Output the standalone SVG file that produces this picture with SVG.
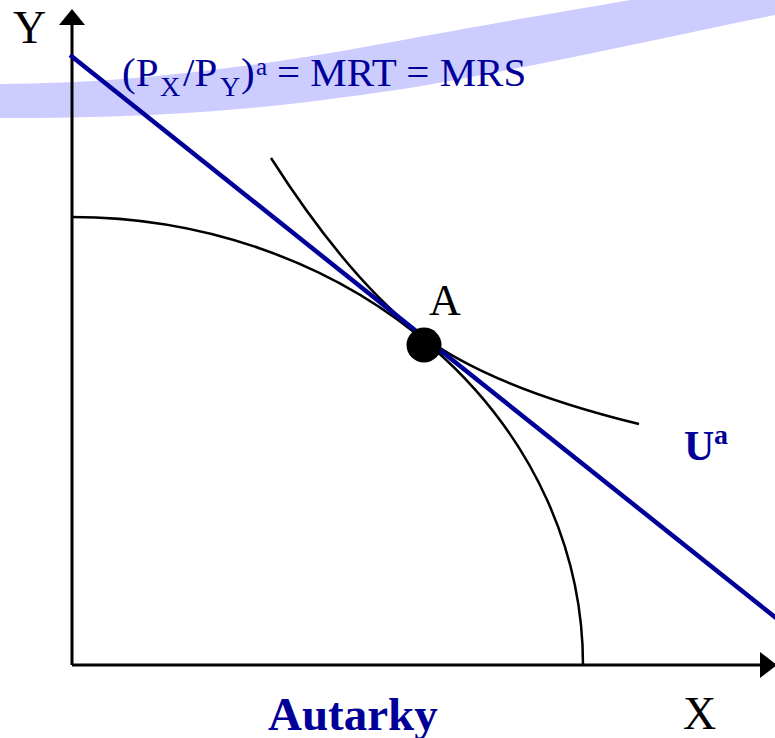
<svg xmlns="http://www.w3.org/2000/svg" width="775" height="738" viewBox="0 0 775 738">
<style>
.serif{font-family:"Liberation Serif","Times New Roman",serif;}
.navy{fill:#000099;}
.blk{fill:#000000;}
.curve{fill:none;stroke:#000000;stroke-width:2.5;}
.axis{fill:none;stroke:#000000;stroke-width:3;}
</style>
<rect x="0" y="0" width="775" height="738" fill="#ffffff"/>
<g id="band">
<path d="M0,84 C120,84 250,68 375,45 S560,12 660,-5 L780,-5 L780,14 C650,40 500,75 375,93 S150,118 0,118 Z" fill="#ccccff"/>
</g>
<g id="axes">
<line class="axis" x1="72" y1="665" x2="72" y2="24"/>
<polygon points="72,9 59,25 85,25" fill="#000000"/>
<line class="axis" x1="72" y1="665" x2="761" y2="665"/>
<polygon points="777,665 760,652 760,678" fill="#000000"/>
</g>
<g id="connectors">
<path id="ppf" class="curve" d="M72,217 A511,448 0 0,1 583,665"/>
<path id="indifference" class="curve" d="M271,158 Q346,275.2 416,331 Q485.5,386.4 639,424"/>
<line id="price-line" x1="70" y1="55" x2="781" y2="622" stroke="#000099" stroke-width="4.5"/>
</g>
<g id="point-A">
<circle cx="424" cy="345" r="17.5" fill="#000000"/>
<text class="serif blk" x="429" y="315" font-size="44">A</text>
</g>
<g id="label-Y"><text class="serif blk" x="13" y="43" font-size="46">Y</text></g>
<g id="label-X"><text class="serif blk" x="683" y="729" font-size="46">X</text></g>
<g id="label-eq">
<text class="serif navy" y="86" font-size="41"><tspan x="122">(P</tspan><tspan x="160" y="96" font-size="28">X</tspan><tspan x="183" y="86">/P</tspan><tspan x="220" y="96" font-size="28">Y</tspan><tspan x="241" y="86">)</tspan><tspan x="256" y="75" font-size="25">a</tspan><tspan x="277" y="86">= MRT = MRS</tspan></text>
</g>
<g id="label-U">
<text class="serif navy" x="684" y="460" font-size="42" font-weight="bold">U</text>
<text class="serif navy" x="714" y="444" font-size="28" font-weight="bold">a</text>
</g>
<g id="label-autarky"><text class="serif navy" x="268" y="730" font-size="47" font-weight="bold">Autarky</text></g>
</svg>
